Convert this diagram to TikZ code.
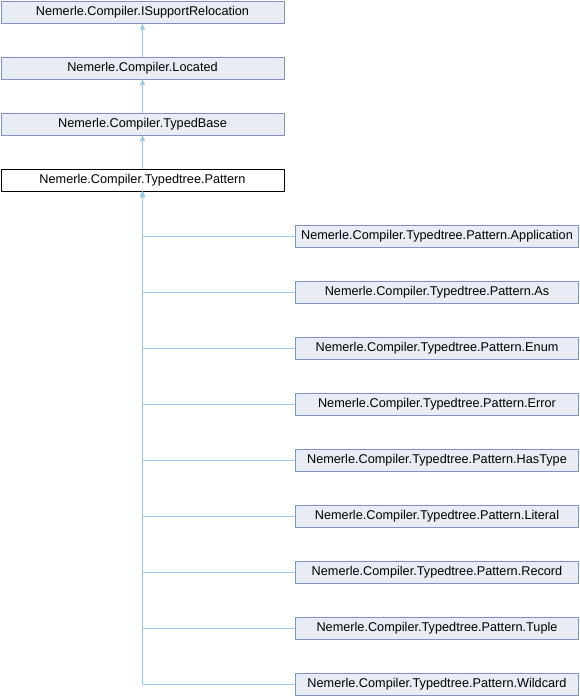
\documentclass[tikz,border=0pt]{standalone}
\usepackage{fontspec}
\setmainfont{Liberation Sans}
\usepackage{tikz}
\usetikzlibrary{arrows.meta, positioning}
\usepackage{xcolor}
\definecolor{boxfill}{RGB}{232, 236, 244}
\definecolor{boxline}{RGB}{128, 146, 196}
\definecolor{edgeblue}{RGB}{150, 202, 236}

\begin{document}
\begin{tikzpicture}[x=1pt, y=-1pt, line cap=round, line join=round,
	>={Triangle[width=5pt,length=6pt]},
	cls/.style={draw=boxline, fill=boxfill, minimum width=283pt, minimum height=22pt, inner sep=0pt, font=\fontsize{12.7}{15}\selectfont},
	current/.style={cls, draw=black, fill=white},
	inherit/.style={->, edgeblue, line width=0.8pt}]
	\useasboundingbox (0,0) rectangle (580,696);

	% base classes
	\node[cls] (reloc) at (142.5,12.5) {Nemerle.Compiler.ISupportRelocation};
	\node[cls] (located) at (142.5,68) {Nemerle.Compiler.Located};
	\node[cls] (typedbase) at (142.5,124) {Nemerle.Compiler.TypedBase};
	\node[current] (pattern) at (142.5,180) {Nemerle.Compiler.Typedtree.Pattern};

	\draw[inherit] (located) -- (reloc);
	\draw[inherit] (typedbase) -- (located);
	\draw[inherit] (pattern) -- (typedbase);

	% derived classes
	\foreach \name/\y in {Application/236.5, As/292, Enum/348, Error/404, HasType/460, Literal/516, Record/572, Tuple/628, Wildcard/684} {
		\node[cls] (\name) at (437,\y) {Nemerle.Compiler.Typedtree.Pattern.\name};
		\draw[inherit] (\name.west) -| (pattern.south);
	}
\end{tikzpicture}
\end{document}
